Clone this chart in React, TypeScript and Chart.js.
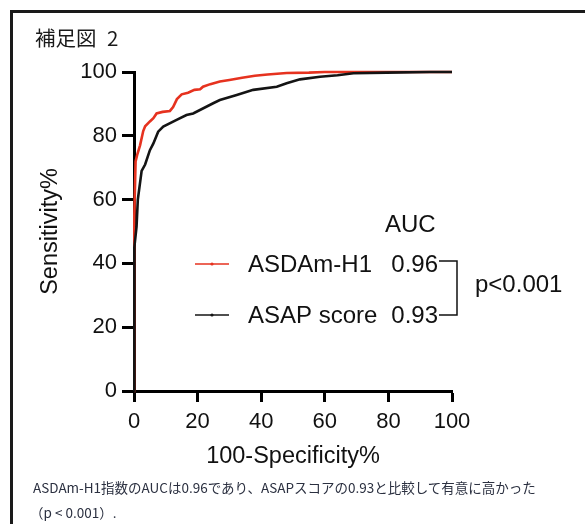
import React, { useEffect, useRef } from "react";
import { Chart, registerables } from "chart.js";

Chart.register(...registerables);

// ---- data ----
const ASDAM_FPR = [0, 0, 0, 0.3, 0.5, 1, 1.9, 2.9, 3.5, 5, 6.1, 7.1, 9, 11.3, 12.3, 13.5, 15, 17, 19, 20.8, 21.7, 24, 27, 30, 34, 38, 42, 48, 55, 60, 100];
const ASDAM_TPR = [0, 20, 37, 55, 72, 74, 77, 81.5, 83, 84.5, 85.5, 87, 87.5, 87.8, 89, 91.5, 93, 93.5, 94.4, 94.6, 95.4, 96.2, 97, 97.5, 98.2, 98.8, 99.2, 99.7, 99.8, 100, 100];
const ASAP_FPR = [0, 0, 0, 0.3, 0.8, 1.2, 2.4, 3.5, 5, 6.1, 7.6, 9.2, 13.4, 16.5, 18.6, 24.9, 27, 32.3, 37.5, 44.9, 48, 52.2, 58.5, 64, 69, 79.4, 93, 100];
const ASAP_TPR = [0, 12, 30, 45, 51.5, 60, 69, 71, 75.5, 77.6, 81.3, 82.9, 85, 86.5, 87, 90.2, 91.2, 92.8, 94.4, 95.4, 96.5, 97.7, 98.5, 99, 99.6, 99.8, 100, 100];
const AXIS_TICKS = [0, 20, 40, 60, 80, 100];
const SERIES_LABELS = ["ASDAm-H1", "ASAP score"];
const AUC_VALUES = ["0.96", "0.93"];
const AUC_HEADER = "AUC";
const P_VALUE = "p<0.001";
const X_TITLE = "100-Specificity%";
const Y_TITLE = "Sensitivity%";
const FIG_TITLE = "補足図 2";
const CAPTION_LINES = [
  "ASDAm-H1指数のAUCは0.96であり、ASAPスコアの0.93と比較して有意に高かった",
  "（p < 0.001）.",
];

const RED = "#e6321f";
const BLACK = "#141414";
const FONT = '"Liberation Sans", Arial, sans-serif';

const annotationPlugin = {
  id: "rocAnnotations",
  afterDraw(chart: any) {
    const { ctx, chartArea } = chart;
    const L = chartArea.left;
    const T = chartArea.top;
    ctx.save();
    ctx.font = `24px ${FONT}`;
    ctx.fillStyle = "#111";
    ctx.textBaseline = "middle";
    ctx.textAlign = "left";
    ctx.fillText(AUC_HEADER, L + 251, T + 153);
    const rows = [T + 193, T + 244];
    const colors = [RED, BLACK];
    rows.forEach((y, i) => {
      ctx.strokeStyle = colors[i];
      ctx.lineWidth = 1.5;
      ctx.beginPath();
      ctx.moveTo(L + 61, y - 1);
      ctx.lineTo(L + 95, y - 1);
      ctx.stroke();
      ctx.fillStyle = colors[i];
      ctx.beginPath();
      ctx.arc(L + 78, y - 1, 1.6, 0, Math.PI * 2);
      ctx.fill();
      ctx.fillStyle = "#111";
      ctx.textAlign = "left";
      ctx.fillText(SERIES_LABELS[i], L + 114, y);
      ctx.textAlign = "right";
      ctx.fillText(AUC_VALUES[i], L + 304, y);
    });
    // bracket
    ctx.strokeStyle = "#111";
    ctx.lineWidth = 1.5;
    ctx.beginPath();
    ctx.moveTo(L + 305, T + 189);
    ctx.lineTo(L + 323, T + 189);
    ctx.lineTo(L + 323, T + 243);
    ctx.lineTo(L + 305, T + 243);
    ctx.stroke();
    ctx.textAlign = "left";
    ctx.fillText(P_VALUE, L + 341, T + 213);
    ctx.restore();
  },
};

export default function App() {
  const canvasRef = useRef<HTMLCanvasElement | null>(null);

  useEffect(() => {
    const canvas = canvasRef.current;
    if (!canvas) return;
    const axisTitleSize = 23.5;
    const chart = new Chart(canvas, {
      type: "line",
      data: {
        datasets: [
          {
            label: SERIES_LABELS[1],
            data: ASAP_FPR.map((x, i) => ({ x, y: ASAP_TPR[i] })),
            borderColor: BLACK,
            borderWidth: 2.6,
            pointRadius: 0,
            tension: 0,
            clip: false as any,
            order: 0,
          },
          {
            label: SERIES_LABELS[0],
            data: ASDAM_FPR.map((x, i) => ({ x, y: ASDAM_TPR[i] })),
            borderColor: RED,
            borderWidth: 2.6,
            pointRadius: 0,
            tension: 0,
            clip: false as any,
            order: 1,
          },
        ],
      },
      options: {
        animation: false,
        responsive: false,
        devicePixelRatio: 1,
        layout: { padding: { left: 0, right: 133, top: 72, bottom: 52.9 } },
        plugins: {
          legend: { display: false },
          tooltip: { enabled: false },
          title: { display: false },
        },
        scales: {
          x: {
            type: "linear",
            min: 0,
            max: 100,
            afterBuildTicks: (s: any) => {
              s.ticks = AXIS_TICKS.map((v) => ({ value: v }));
            },
            afterFit: (s: any) => {
              s.height = 80.1;
              s.paddingLeft = 0;
              s.paddingRight = 0;
            },
            grid: {
              drawOnChartArea: false,
              drawTicks: true,
              tickLength: 11,
              tickWidth: 3,
              tickColor: "#000",
            },
            border: { display: true, color: "#000", width: 3 },
            ticks: {
              color: "#111",
              font: { family: FONT, size: 22 },
              padding: 7,
              maxRotation: 0,
              autoSkip: false,
            },
            title: {
              display: true,
              text: X_TITLE,
              color: "#111",
              font: { family: FONT, size: axisTitleSize },
              padding: { top: 0, bottom: 0 },
            },
          },
          y: {
            type: "linear",
            min: 0,
            max: 100,
            afterBuildTicks: (s: any) => {
              s.ticks = AXIS_TICKS.map((v) => ({ value: v }));
            },
            afterFit: (s: any) => {
              s.width = 134;
              s.paddingTop = 0;
              s.paddingBottom = 0;
            },
            grid: {
              drawOnChartArea: false,
              drawTicks: true,
              tickLength: 12,
              tickWidth: 3,
              tickColor: "#000",
            },
            border: { display: true, color: "#000", width: 3 },
            ticks: {
              color: "#111",
              font: { family: FONT, size: 22 },
              padding: 5,
              autoSkip: false,
            },
            title: {
              display: true,
              text: Y_TITLE,
              color: "#111",
              font: { family: FONT, size: axisTitleSize },
              padding: { top: 36, bottom: 0 },
            },
          },
        },
      },
      plugins: [annotationPlugin],
    } as any);
    return () => chart.destroy();
  }, []);

  return (
    <div
      style={{
        position: "fixed",
        left: 0,
        top: 0,
        width: 585,
        height: 524,
        overflow: "hidden",
        background: "#fff",
      }}
    >
      <div
        style={{
          position: "absolute",
          left: 10,
          top: 10,
          width: 700,
          height: 700,
          borderTop: "3px solid #1a1a1a",
          borderLeft: "3px solid #1a1a1a",
        }}
      />
      <canvas
        ref={canvasRef}
        width={585}
        height={524}
        style={{ position: "absolute", left: 0, top: 0, width: 585, height: 524 }}
      />
      <div
        style={{
          position: "absolute",
          left: 35,
          top: 27,
          fontFamily: '"Noto Sans CJK JP", sans-serif',
          fontSize: 20.5,
          lineHeight: "20px",
          wordSpacing: 6,
          color: "#1a1a1a",
          whiteSpace: "nowrap",
        }}
      >
        {FIG_TITLE}
      </div>
      <div
        style={{
          position: "absolute",
          left: 33,
          top: 478,
          fontFamily: '"Noto Sans CJK JP", sans-serif',
          fontSize: 13.5,
          color: "#2b3040",
          whiteSpace: "nowrap",
        }}
      >
        <div style={{ height: 18, lineHeight: "18px" }}>{CAPTION_LINES[0]}</div>
        <div style={{ height: 18, lineHeight: "18px", marginTop: 7, marginLeft: -3 }}>{CAPTION_LINES[1]}</div>
      </div>
    </div>
  );
}
